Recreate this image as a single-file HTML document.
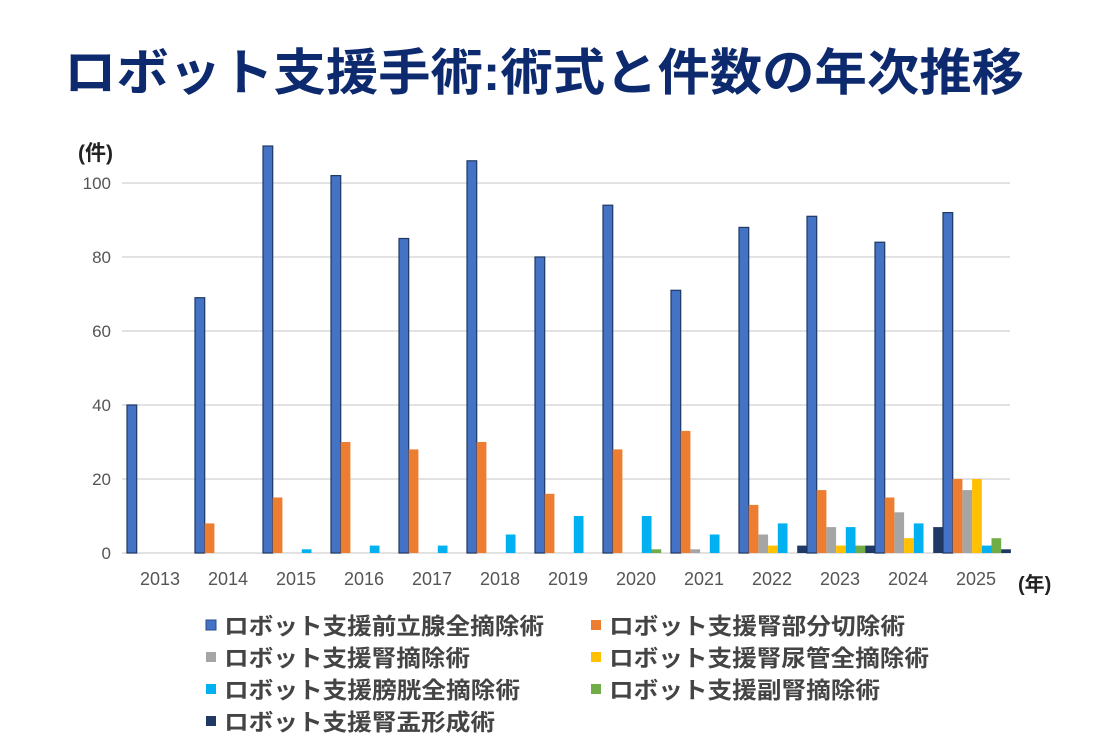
<!DOCTYPE html><html><head><meta charset="utf-8"><style>
body{margin:0;background:#fff;width:1109px;height:735px;overflow:hidden;font-family:"Liberation Sans","Noto Sans CJK JP",sans-serif}
</style></head><body>
<svg width="1109" height="735" xmlns="http://www.w3.org/2000/svg" font-family="Liberation Sans, Noto Sans CJK JP, sans-serif">
<text x="64" y="90" font-size="50" font-weight="bold" fill="#0d2a6e" textLength="960" lengthAdjust="spacingAndGlyphs">ロボット支援手術:術式と件数の年次推移</text>
<text x="78" y="160" font-size="21" font-weight="bold" fill="#222">(件)</text>
<text x="1018" y="591" font-size="20" font-weight="bold" fill="#222">(年)</text>
<g stroke="#d9d9d9" stroke-width="1.5">
<line x1="122" y1="183" x2="1010" y2="183"/><line x1="122" y1="257" x2="1010" y2="257"/><line x1="122" y1="331" x2="1010" y2="331"/><line x1="122" y1="405" x2="1010" y2="405"/><line x1="122" y1="479" x2="1010" y2="479"/><line x1="122" y1="553" x2="1010" y2="553"/>
</g>
<g font-size="17" fill="#555" text-anchor="end">
<text x="111" y="189">100</text><text x="111" y="263">80</text><text x="111" y="337">60</text><text x="111" y="411">40</text><text x="111" y="485">20</text><text x="111" y="559">0</text>
</g>
<g id="bars"></g>
<g id="xl" font-size="18" fill="#555" text-anchor="middle"></g>
<g font-size="23" font-weight="bold" fill="#444">
<rect x="206" y="620" width="10" height="10" fill="#4472c4" stroke="#2a4a8a"/><text x="224" y="634" textLength="320" lengthAdjust="spacingAndGlyphs">ロボット支援前立腺全摘除術</text>
<rect x="591" y="620" width="10" height="10" fill="#ed7d31"/><text x="609" y="634" textLength="296" lengthAdjust="spacingAndGlyphs">ロボット支援腎部分切除術</text>
<rect x="206" y="652" width="10" height="10" fill="#a5a5a5"/><text x="224" y="666" textLength="246" lengthAdjust="spacingAndGlyphs">ロボット支援腎摘除術</text>
<rect x="591" y="652" width="10" height="10" fill="#ffc000"/><text x="609" y="666" textLength="320" lengthAdjust="spacingAndGlyphs">ロボット支援腎尿管全摘除術</text>
<rect x="206" y="684" width="10" height="10" fill="#00b0f0"/><text x="224" y="698" textLength="296" lengthAdjust="spacingAndGlyphs">ロボット支援膀胱全摘除術</text>
<rect x="591" y="684" width="10" height="10" fill="#70ad47"/><text x="609" y="698" textLength="271" lengthAdjust="spacingAndGlyphs">ロボット支援副腎摘除術</text>
<rect x="206" y="716" width="10" height="10" fill="#1f3864"/><text x="224" y="730" textLength="271" lengthAdjust="spacingAndGlyphs">ロボット支援腎盂形成術</text>
</g>
</svg>
<script>
var d=[[40],[69,8],[110,15,0,0,1],[102,30,0,0,2],[85,28,0,0,2],[106,30,0,0,5],[80,16,0,0,10],[94,28,0,0,10,1],[71,33,1,0,5],[88,13,5,2,8,0,2],[91,17,7,2,7,2,2],[84,15,11,4,8,0,7],[92,20,17,20,2,4,1]];
var c=["#4472c4","#ed7d31","#a5a5a5","#ffc000","#00b0f0","#70ad47","#1f3864"];
var s="",t="",gw=68,bw=9.7;
d.forEach(function(g,i){var L=122+i*gw;
t+='<text x="'+(L+38)+'" y="585">'+(2013+i)+'</text>';
g.forEach(function(v,j){if(!v)return;var h=v*3.7,x=L+5+j*bw;
s+='<rect x="'+x+'" y="'+(553-h)+'" width="'+bw+'" height="'+h+'" fill="'+c[j]+'"'+(j==0?' stroke="#1f3864" stroke-width="1.2"':'')+'/>';});});
document.getElementById("bars").innerHTML=s;document.getElementById("xl").innerHTML=t;
</script>
</body></html>
